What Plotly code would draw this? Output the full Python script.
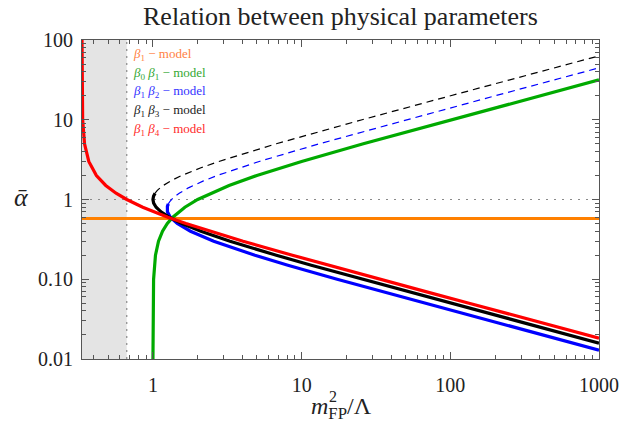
import math
import plotly.graph_objects as go

# ---------------- data ----------------
X_RANGE = [1 / 3, 1000]
Y_RANGE = [0.01, 100]
HIGUCHI_X = 2 / 3          # shaded (forbidden) region ends here
REF_ALPHA = 1.0            # dotted horizontal reference line

# beta1 - model (orange, constant)
b1_x = [0.3333, 1000]
b1_alpha = [0.5774, 0.5774]

# beta0 beta1 - model (green)
b01_x = [1.0001, 1.0009, 1.0025, 1.01, 1.04, 1.09, 1.16, 1.25, 1.36, 1.49, 1.64,
         2.0, 3.25, 5.0, 10.0, 26.0, 101.0, 401.0, 1000.0]
b01_alpha = [0.01, 0.03, 0.05, 0.1, 0.2, 0.3, 0.4, 0.5, 0.6, 0.7, 0.8,
             1.0, 1.5, 2.0, 3.0, 5.0, 10.0, 20.0, 31.607]

# beta1 beta2 - model (blue): solid lower branch, dashed upper branch
b12_lo_x = [1000.0, 417.33, 185.85, 67.335, 34.683, 17.338, 8.0853, 4.8533, 2.5635,
            1.7883, 1.4583, 1.3096, 1.2518, 1.2440, 1.2507, 1.2691]
b12_lo_alpha = [0.012914, 0.02, 0.03, 0.05, 0.07, 0.1, 0.15, 0.2, 0.3,
                0.4, 0.5, 0.6, 0.7, 0.76, 0.82, 0.88]
b12_hi_x = [1.2691, 1.3026, 1.3691, 1.5024, 1.7317, 2.1693, 2.7083, 5.1852,
            13.173, 50.668, 200.67, 1000.0]
b12_hi_alpha = [0.88, 0.95, 1.05, 1.2, 1.4, 1.7, 2.0, 3.0, 5.0, 10.0, 20.0, 44.706]

# beta1 beta3 - model (black): solid lower branch, dashed upper branch
b13_lo_x = [1000.0, 625.5, 278.28, 100.50, 51.52, 25.503, 11.617, 6.76, 3.3003,
            2.1025, 1.5625, 1.2844, 1.1327, 1.0506, 1.0111, 1.0, 1.0091, 1.0336]
b13_lo_alpha = [0.015815, 0.02, 0.03, 0.05, 0.07, 0.1, 0.15, 0.2, 0.3,
                0.4, 0.5, 0.6, 0.7, 0.8, 0.9, 1.0, 1.1, 1.2]
b13_hi_x = [1.0336, 1.0506, 1.0704, 1.1176, 1.1736, 1.3473, 1.5625, 2.1025,
            2.7778, 6.76, 12.755, 25.503, 100.50, 400.50, 1000.0]
b13_hi_alpha = [1.2, 1.25, 1.3, 1.4, 1.5, 1.75, 2.0, 2.5,
                3.0, 5.0, 7.0, 10.0, 20.0, 40.0, 63.23]

# beta1 beta4 - model (red)
b14_x = [0.33337, 0.33370, 0.33667, 0.34667, 0.37037, 0.41667, 0.48148, 0.56481,
         0.66667, 0.85417, 1.0136, 1.2593, 1.6667, 2.4167, 4.0370, 8.6667, 15.148,
         33.667, 68.361, 133.67, 370.70, 833.67, 1000.0]
b14_alpha = [100, 30, 10, 5, 3, 2, 1.5, 1.2,
             1.0, 0.8, 0.7, 0.6, 0.5, 0.4, 0.3, 0.2, 0.15,
             0.1, 0.07, 0.05, 0.03, 0.02, 0.01826]

x_tickvals = [1, 10, 100, 1000]
x_ticktext = ["1", "10", "100", "1000"]
y_tickvals = [0.01, 0.1, 1, 10, 100]
y_ticktext = ["0.01", "0.10", "1", "10", "100"]
x_minor = [0.4, 0.5, 0.6, 0.7, 0.8, 0.9] + [m * d for d in (1, 10, 100) for m in range(2, 10)]
y_minor = [m * d for d in (0.01, 0.1, 1, 10) for m in range(2, 10)]

legend_labels = [
    "<i>β</i><sub>1</sub> − model",
    "<i>β</i><sub>0</sub> <i>β</i><sub>1</sub> − model",
    "<i>β</i><sub>1</sub> <i>β</i><sub>2</sub> − model",
    "<i>β</i><sub>1</sub> <i>β</i><sub>3</sub> − model",
    "<i>β</i><sub>1</sub> <i>β</i><sub>4</sub> − model",
]
legend_colors = ["#ff7f3f", "#33a833", "#3333ff", "#222222", "#ff2a2a"]

# ---------------- styling ----------------
SERIF = "Liberation Serif"
AX = "#555555"
W, H = 619, 430
# plot area in window pixels: x 82..599, y 40..359
L, T = 82, 40
PW, PH = 517, 319
R, B = W - L - PW, H - T - PH


def px_x(p):
    """window pixel -> paper x"""
    return (p - L) / PW


def px_y(p):
    """window pixel -> paper y"""
    return 1 - (p - T) / PH


fig = go.Figure()

# Higuchi shaded region
fig.add_trace(go.Scatter(
    x=[X_RANGE[0], HIGUCHI_X, HIGUCHI_X, X_RANGE[0], X_RANGE[0]],
    y=[Y_RANGE[0], Y_RANGE[0], Y_RANGE[1], Y_RANGE[1], Y_RANGE[0]],
    mode="lines", fill="toself", fillcolor="#e4e4e4",
    line=dict(width=0), hoverinfo="skip"))
# dotted guides
fig.add_trace(go.Scatter(x=[HIGUCHI_X, HIGUCHI_X], y=Y_RANGE, mode="lines",
                         line=dict(color="#8a8a8a", width=1.2, dash="2px,5px"), hoverinfo="skip"))
fig.add_trace(go.Scatter(x=X_RANGE, y=[REF_ALPHA, REF_ALPHA], mode="lines",
                         line=dict(color="#8a8a8a", width=1.2, dash="2px,6px"), hoverinfo="skip"))

THICK = 3.2
DASH = dict(width=1.2, dash="7px,5px")

fig.add_trace(go.Scatter(x=b1_x, y=b1_alpha, mode="lines",
                         line=dict(color="#ff8000", width=THICK)))
fig.add_trace(go.Scatter(x=b01_x, y=b01_alpha, mode="lines",
                         line=dict(color="#00aa00", width=THICK)))
fig.add_trace(go.Scatter(x=b12_hi_x, y=b12_hi_alpha, mode="lines",
                         line=dict(color="#0000ff", **DASH)))
fig.add_trace(go.Scatter(x=b12_lo_x, y=b12_lo_alpha, mode="lines",
                         line=dict(color="#0000ff", width=THICK)))
fig.add_trace(go.Scatter(x=b13_hi_x, y=b13_hi_alpha, mode="lines",
                         line=dict(color="#000000", **DASH)))
fig.add_trace(go.Scatter(x=b13_lo_x, y=b13_lo_alpha, mode="lines",
                         line=dict(color="#000000", width=THICK)))
fig.add_trace(go.Scatter(x=b14_x, y=b14_alpha, mode="lines",
                         line=dict(color="#ff0000", width=THICK)))

# dummy trace so the mirrored (top/right) axes are drawn
fig.add_trace(go.Scatter(x=[1], y=[1], xaxis="x2", yaxis="y2", mode="markers",
                         marker=dict(opacity=0), hoverinfo="skip"))

xr = [math.log10(X_RANGE[0]), math.log10(X_RANGE[1])]
yr = [math.log10(Y_RANGE[0]), math.log10(Y_RANGE[1])]

common = dict(type="log", showline=True, linecolor=AX, linewidth=1, ticks="inside",
              ticklen=7, tickwidth=1, tickcolor=AX, showgrid=False, zeroline=False,
              automargin=False, fixedrange=True,
              tickfont=dict(family=SERIF, size=20, color="#222222"))

fig.update_layout(
    width=W, height=H,
    margin=dict(l=L, r=R, t=T, b=B, autoexpand=False),
    plot_bgcolor="white", paper_bgcolor="white",
    showlegend=False, hovermode=False,
    xaxis=dict(range=xr, tickmode="array", tickvals=x_tickvals, ticktext=x_ticktext,
               minor=dict(ticks="inside", ticklen=4, tickcolor=AX, tickmode="array",
                          tickvals=x_minor, showgrid=False),
               ticklabelstandoff=8, **common),
    yaxis=dict(range=yr, tickmode="array", tickvals=y_tickvals, ticktext=y_ticktext,
               minor=dict(ticks="inside", ticklen=4, tickcolor=AX, tickmode="array",
                          tickvals=y_minor, showgrid=False),
               ticklabelstandoff=4, **common),
    xaxis2=dict(range=xr, overlaying="x", side="top", showticklabels=False,
                tickmode="array", tickvals=x_tickvals,
                minor=dict(ticks="inside", ticklen=4, tickcolor=AX, tickmode="array",
                           tickvals=x_minor, showgrid=False), **common),
    yaxis2=dict(range=yr, overlaying="y", side="right", showticklabels=False,
                tickmode="array", tickvals=y_tickvals,
                minor=dict(ticks="inside", ticklen=4, tickcolor=AX, tickmode="array",
                           tickvals=y_minor, showgrid=False), **common),
)

ann = []
# title
ann.append(dict(text="Relation between physical parameters", xref="paper", yref="paper",
                x=0.5, y=px_y(16), xanchor="center", yanchor="middle", showarrow=False,
                font=dict(family=SERIF, size=26, color="#222222")))
# legend texts
for i, (lab, col) in enumerate(zip(legend_labels, legend_colors)):
    ann.append(dict(text=lab, xref="paper", yref="paper", x=px_x(131), y=px_y(54 + 19 * i),
                    xanchor="left", yanchor="middle", showarrow=False,
                    font=dict(family=SERIF, size=13, color=col)))
# x-axis label (m^2_FP / Lambda)
ann.append(dict(text="<i>m</i><sub>FP</sub>/Λ", xref="paper", yref="paper",
                x=px_x(341), y=px_y(408), xanchor="center", yanchor="middle", showarrow=False,
                font=dict(family=SERIF, size=24, color="#222222")))
ann.append(dict(text="2", xref="paper", yref="paper",
                x=px_x(333), y=px_y(396), xanchor="center", yanchor="middle", showarrow=False,
                font=dict(family=SERIF, size=16, color="#222222")))
# y-axis label (alpha bar)
ann.append(dict(text="<i>ᾱ</i>", xref="paper", yref="paper",
                x=px_x(21), y=px_y(198), xanchor="center", yanchor="middle", showarrow=False,
                font=dict(family=SERIF, size=26, color="#222222")))
fig.update_layout(annotations=ann)

# remove the default 8px page margin so the figure sits at the window's top-left corner
fig.write_html("out.html", config={"displayModeBar": False, "staticPlot": True},
               post_script="document.body.style.margin='0px';")
